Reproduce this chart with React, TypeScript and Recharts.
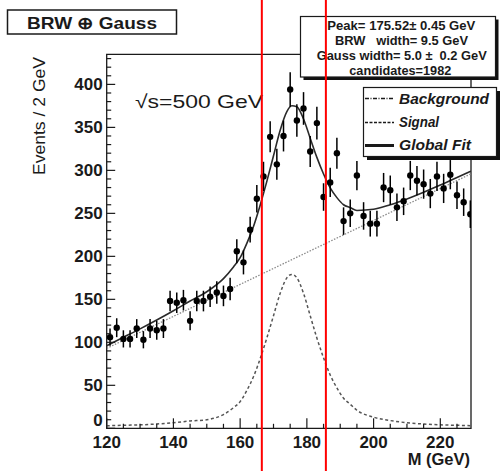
import React from 'react';
import {
  ComposedChart,
  Line,
  Scatter,
  ErrorBar,
  XAxis,
  YAxis,
  ReferenceArea,
  ReferenceLine,
} from 'recharts';

const W = 501;
const H = 471;
const FONT = '"Liberation Sans", Arial, Helvetica, sans-serif';
const INK = '#1a1a1a';

// Reconstructed top-quark candidate mass, 2 GeV bins
const binCenters = [
  121, 123, 125, 127, 129, 131, 133, 135, 137, 139,
  141, 143, 145, 147, 149, 151, 153, 155, 157, 159,
  161, 163, 165, 167, 169, 171, 173, 175, 177, 179,
  181, 183, 185, 187, 189, 191, 193, 195, 197, 199,
  201, 203, 205, 207, 209, 211, 213, 215, 217, 219,
  221, 223, 225, 227, 229,
];
const counts = [
  106, 117, 104, 104, 116, 103, 116, 114, 116, 148,
  146, 149, 125, 148, 148, 153, 158, 154, 162, 206,
  193, 231, 267, 293, 339, 307, 340, 394, 358, 372,
  322, 355, 269, 286, 320, 241, 250, 294, 247, 238,
  238, 280, 277, 257, 264, 294, 288, 284, 273, 293,
  279, 295, 271, 263, 249,
];
const countErrors = [
  10, 11, 10, 10, 11, 10, 11, 11, 11, 12,
  12, 12, 11, 12, 12, 12, 13, 12, 13, 14,
  14, 15, 16, 17, 18, 18, 18, 20, 19, 19,
  18, 19, 16, 17, 18, 16, 16, 17, 16, 15,
  15, 17, 17, 16, 16, 17, 17, 17, 17, 17,
  17, 17, 16, 16, 16,
];

// Linear background component
const backgroundMass = [120, 229.2];
const backgroundFit = [93, 296];

// BRW (x) Gauss signal and the global fit, sampled along the mass axis
const fitMass = [
  120, 125, 130, 135, 140, 145, 150, 155, 158, 160,
  162, 164, 166, 168, 170, 172, 174, 175.5, 177, 179,
  181, 183, 185, 187, 189, 191, 193, 195, 200, 205,
  210, 215, 220, 225, 229.2,
];
const signalFit = [
  3, 3.5, 4, 5, 6.5, 8.5, 10, 16, 24, 31,
  44, 60, 81, 105, 131, 157, 175, 179, 175, 157,
  131, 105, 82, 62, 47, 35, 28, 21, 13, 9,
  6.5, 5, 4, 3.5, 3,
];
const globalFit = [
  96, 105.8, 115.6, 125.9, 136.7, 148, 158.8, 174.1, 187.6, 198.4,
  215.1, 234.8, 259.5, 287.2, 317, 346.7, 368.4, 375.2, 374.1, 359.7,
  337.4, 315.1, 295.8, 279.6, 268.3, 260, 256.7, 253.4, 254.7, 260,
  266.8, 274.6, 282.9, 291.7, 299,
];

// Mass window edges
const windowEdges = [166.5, 185.7];

const xDomain: [number, number] = [120, 229.2];
const yDomain: [number, number] = [0, 435];
const xMajorLabels = [120, 140, 160, 180, 200, 220];
const yMajorLabels = [0, 50, 100, 150, 200, 250, 300, 350, 400];
const xTickValues = Array.from({ length: 22 }, (_, i) => 120 + i * 5);
const yTickValues = Array.from({ length: 44 }, (_, i) => i * 10);

const points = binCenters.map((m, i) => ({ m, v: counts[i], err: countErrors[i] }));
const bgData = backgroundMass.map((m, i) => ({ m, v: backgroundFit[i] }));
const sigData = fitMass.map((m, i) => ({ m, v: signalFit[i] }));
const fitData = fitMass.map((m, i) => ({ m, v: globalFit[i] }));

const MARGIN_TOP = 54.3;
const MARGIN_RIGHT = 30;
const AXIS_H = 42.7;
const AXIS_W = 106.7;

const XTick = (props: any) => {
  const { x, y, payload } = props;
  const v = payload.value;
  const major = xMajorLabels.includes(v);
  return (
    <g>
      <line x1={x} y1={y} x2={x} y2={y - (major ? 10 : 4.5)} stroke={INK} strokeWidth={1.2} />
      {major && (
        <text
          x={x}
          y={y + 19.5}
          textAnchor="middle"
          fontFamily={FONT}
          fontWeight="bold"
          fontSize={17}
          fill={INK}
        >
          {v}
        </text>
      )}
    </g>
  );
};

const YTick = (props: any) => {
  const { x, y, payload } = props;
  const v = payload.value;
  const major = yMajorLabels.includes(v);
  return (
    <g>
      <line x1={x} y1={y} x2={x + (major ? 8.5 : 4.5)} y2={y} stroke={INK} strokeWidth={1.2} />
      {major && (
        <text
          x={x - 4}
          y={v === 0 ? y - 2 : y + 6}
          textAnchor="end"
          fontFamily={FONT}
          fontWeight="bold"
          fontSize={17}
          fill={INK}
        >
          {v}
        </text>
      )}
    </g>
  );
};

const Dot = (props: any) => <circle cx={props.cx} cy={props.cy} r={3.2} fill="#000" />;

const FullHeightLine = (props: any) => (
  <line x1={props.x1} x2={props.x2} y1={0} y2={H} stroke="#ff0000" strokeWidth={2} />
);

const layer: React.CSSProperties = { position: 'absolute', left: 0, top: 0 };

export default function App() {
  return (
    <div style={{ position: 'absolute', left: 0, top: 0, width: W, height: H, background: '#fff' }}>
      {/* histogram, fit curves and frame */}
      <div style={layer}>
        <ComposedChart
          width={W}
          height={H}
          margin={{ top: MARGIN_TOP, right: MARGIN_RIGHT, bottom: 0, left: 0 }}
        >
          <XAxis
            dataKey="m"
            type="number"
            domain={xDomain}
            allowDataOverflow
            ticks={xTickValues}
            interval={0}
            height={AXIS_H}
            tickSize={0}
            tickMargin={0}
            axisLine={false}
            tickLine={false}
            tick={XTick}
          />
          <YAxis
            type="number"
            domain={yDomain}
            allowDataOverflow
            ticks={yTickValues}
            interval={0}
            width={AXIS_W}
            tickSize={0}
            tickMargin={0}
            axisLine={false}
            tickLine={false}
            tick={YTick}
          />
          <Line
            data={bgData}
            dataKey="v"
            type="linear"
            stroke="#8a8a8a"
            strokeWidth={1.3}
            strokeDasharray="1.5 1.5"
            dot={false}
            isAnimationActive={false}
          />
          <Line
            data={sigData}
            dataKey="v"
            type="monotone"
            stroke="#555"
            strokeWidth={1.5}
            strokeDasharray="3 2.5"
            dot={false}
            isAnimationActive={false}
          />
          <Line
            data={fitData}
            dataKey="v"
            type="monotone"
            stroke="#2a2a2a"
            strokeWidth={1.6}
            dot={false}
            isAnimationActive={false}
          />
          <Scatter data={points} dataKey="v" shape={Dot} isAnimationActive={false}>
            <ErrorBar dataKey="err" direction="y" width={0} stroke="#000" strokeWidth={1.5} />
          </Scatter>
          <ReferenceArea
            x1={xDomain[0]}
            x2={xDomain[1]}
            y1={yDomain[0]}
            y2={yDomain[1]}
            fill="none"
            fillOpacity={0}
            stroke={INK}
            strokeWidth={1.3}
          />
        </ComposedChart>
      </div>

      {/* titles, annotation and legend */}
      <svg width={W} height={H} style={layer}>
        <text
          transform="translate(44.5,175) rotate(-90)"
          fontFamily={FONT}
          fontSize={17}
          fill={INK}
          textLength={118}
          lengthAdjust="spacingAndGlyphs"
        >
          Events / 2 GeV
        </text>
        <text
          x={470}
          y={465}
          textAnchor="end"
          fontFamily={FONT}
          fontWeight="bold"
          fontSize={16.5}
          fill={INK}
        >
          M (GeV)
        </text>

        <rect x={7.5} y={10} width={169} height={24} fill="#fff" stroke={INK} strokeWidth={1.5} />
        <text
          x={27}
          y={28.5}
          fontFamily={FONT}
          fontWeight="bold"
          fontSize={16.5}
          fill={INK}
          textLength={130}
          lengthAdjust="spacingAndGlyphs"
        >
          BRW ⊕ Gauss
        </text>

        <text
          x={135}
          y={108}
          fontFamily={FONT}
          fontSize={18.5}
          fill={INK}
          textLength={128}
          lengthAdjust="spacingAndGlyphs"
        >
          √s=500 GeV
        </text>

        {/* fit results */}
        <rect x={303.5} y={19.5} width={195} height={60.5} fill="#111" />
        <rect x={300.5} y={16.5} width={195} height={60.5} fill="#fff" stroke={INK} strokeWidth={1.2} />
        <g fontFamily={FONT} fontWeight="bold" fontSize={12} fill={INK}>
          <text x={327.3} y={29.5} xmlSpace="preserve" textLength={148} lengthAdjust="spacingAndGlyphs">
            {'Peak= 175.52\u00b1 0.45 GeV'}
          </text>
          <text x={335} y={45} xmlSpace="preserve" textLength={133} lengthAdjust="spacingAndGlyphs">
            {'BRW   width= 9.5 GeV'}
          </text>
          <text x={316.7} y={60.3} xmlSpace="preserve" textLength={170} lengthAdjust="spacingAndGlyphs">
            {'Gauss width= 5.0 \u00b1  0.2 GeV'}
          </text>
          <text x={349.3} y={75.3} textLength={102} lengthAdjust="spacingAndGlyphs">
            candidates=1982
          </text>
        </g>

        {/* legend */}
        <rect x={367} y={91} width={133} height={69} fill="#111" />
        <rect x={363.5} y={87.5} width={133} height={69} fill="#fff" stroke={INK} strokeWidth={1.2} />
        <line x1={365} y1={98.5} x2={394} y2={98.5} stroke={INK} strokeWidth={1.3} strokeDasharray="4 1.5 1 1.5" />
        <line x1={365} y1={122.5} x2={394} y2={122.5} stroke={INK} strokeWidth={1.6} strokeDasharray="3 1.5" />
        <line x1={365} y1={145.5} x2={394} y2={145.5} stroke={INK} strokeWidth={3} />
        <g fontFamily={FONT} fontWeight="bold" fontStyle="italic" fontSize={14} fill={INK}>
          <text x={399} y={103.5} textLength={90} lengthAdjust="spacingAndGlyphs">Background</text>
          <text x={399} y={127} textLength={40} lengthAdjust="spacingAndGlyphs">Signal</text>
          <text x={399} y={150.3} textLength={72} lengthAdjust="spacingAndGlyphs">Global Fit</text>
        </g>
      </svg>

      {/* mass window edges, drawn on top */}
      <div style={layer}>
        <ComposedChart
          width={W}
          height={H}
          margin={{ top: MARGIN_TOP, right: MARGIN_RIGHT, bottom: AXIS_H, left: AXIS_W }}
        >
          <XAxis dataKey="m" type="number" domain={xDomain} allowDataOverflow hide />
          <YAxis type="number" domain={yDomain} allowDataOverflow hide />
          <Line
            data={bgData}
            dataKey="v"
            stroke="none"
            dot={false}
            isAnimationActive={false}
          />
          {windowEdges.map((x) => (
            <ReferenceLine key={x} x={x} stroke="#ff0000" strokeWidth={2} shape={FullHeightLine} />
          ))}
        </ComposedChart>
      </div>
    </div>
  );
}
